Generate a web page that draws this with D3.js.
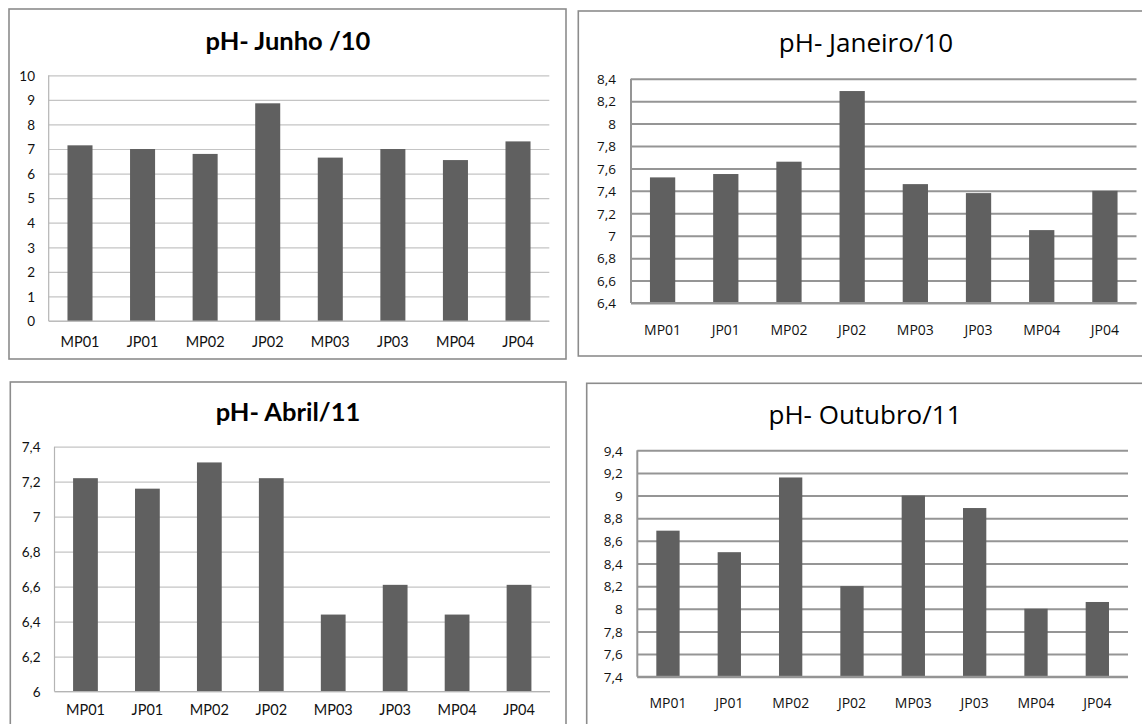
<!DOCTYPE html>
<html>
<head>
<meta charset="utf-8">
<script src="https://cdn.jsdelivr.net/npm/d3@7"></script>
<style>
  html, body { margin: 0; padding: 0; background: #fff; }
  svg { display: block; }
</style>
</head>
<body>
<svg id="chart" width="1142" height="724"></svg>
<script>
// ---------- data ----------
const categories = ["MP01", "JP01", "MP02", "JP02", "MP03", "JP03", "MP04", "JP04"];

const titleJunho10 = "pH- Junho /10";
const phJunho10 = [7.15, 7.0, 6.8, 8.86, 6.65, 7.0, 6.55, 7.31];
const ticksJunho10 = [0, 1, 2, 3, 4, 5, 6, 7, 8, 9, 10];

const titleJaneiro10 = "pH- Janeiro/10";
const phJaneiro10 = [7.52, 7.55, 7.66, 8.29, 7.46, 7.38, 7.05, 7.40];
const ticksJaneiro10 = [6.4, 6.6, 6.8, 7, 7.2, 7.4, 7.6, 7.8, 8, 8.2, 8.4];

const titleAbril11 = "pH- Abril/11";
const phAbril11 = [7.22, 7.16, 7.31, 7.22, 6.44, 6.61, 6.44, 6.61];
const ticksAbril11 = [6, 6.2, 6.4, 6.6, 6.8, 7, 7.2, 7.4];

const titleOutubro11 = "pH- Outubro/11";
const phOutubro11 = [8.69, 8.5, 9.16, 8.2, 9.0, 8.89, 8.0, 8.06];
const ticksOutubro11 = [7.4, 7.6, 7.8, 8, 8.2, 8.4, 8.6, 8.8, 9, 9.2, 9.4];

// ---------- layout / style ----------
const styleA = { // Excel/Calibri-like panels
  font: "Lato, 'Liberation Sans', sans-serif",
  titleWeight: "bold", titleSize: 25.5,
  tickSize: 13.5, catSize: 14.5,
  grid: "#c4c4c4", gridW: 1.2, axis: "#b4b4b4", axisW: 1.2
};
const styleB = { // Myriad-like panels
  font: "'Open Sans', 'Noto Sans', sans-serif",
  titleWeight: "normal", titleSize: 26,
  tickSize: 13.5, catSize: 14,
  grid: "#959595", gridW: 2, axis: "#959595", axisW: 2
};

const panels = [
  { title: titleJunho10, values: phJunho10, ticks: ticksJunho10, style: styleA,
    box: [9, 9, 566, 359], plot: [48.7, 75.3, 549.3, 321], titleX: 288, titleY: 50,
    tickRight: 35, catY: 346.5, barRatio: 0.4 },
  { title: titleJaneiro10, values: phJaneiro10, ticks: ticksJaneiro10, style: styleB,
    box: [578.3, 11, 1160, 356], plot: [631, 78.7, 1136.5, 303], titleX: 866, titleY: 52,
    tickRight: 616, catY: 334.5, barRatio: 0.4 },
  { title: titleAbril11, values: phAbril11, ticks: ticksAbril11, style: styleA,
    box: [10.3, 382, 566, 760], plot: [54.5, 446.7, 550, 691.5], titleX: 288, titleY: 421,
    tickRight: 40.5, catY: 714.5, barRatio: 0.4 },
  { title: titleOutubro11, values: phOutubro11, ticks: ticksOutubro11, style: styleB,
    box: [586.7, 383.3, 1160, 760], plot: [637.3, 450.3, 1128, 676.7], titleX: 865, titleY: 424,
    tickRight: 622.7, catY: 708, barRatio: 0.38 }
];

const fmt = v => String(v).replace(".", ",");
const svg = d3.select("#chart");
svg.append("rect").attr("width", 1142).attr("height", 724).attr("fill", "#fff");

panels.forEach(p => {
  const s = p.style;
  const g = svg.append("g");
  const [bx0, by0, bx1, by1] = p.box;
  g.append("rect")
    .attr("x", bx0).attr("y", by0)
    .attr("width", bx1 - bx0).attr("height", by1 - by0)
    .attr("fill", "#fff").attr("stroke", "#8c8c8c").attr("stroke-width", 1.6);

  const [px0, py0, px1, py1] = p.plot;
  const x = d3.scaleBand().domain(categories).range([px0, px1])
    .paddingInner(1 - p.barRatio).paddingOuter((1 - p.barRatio) / 2);
  const y = d3.scaleLinear().domain(d3.extent(p.ticks)).range([py1, py0]);

  // gridlines
  const gridAxis = d3.axisLeft(y).tickValues(p.ticks).tickSize(-(px1 - px0)).tickFormat("");
  const gg = g.append("g").attr("transform", `translate(${px0},0)`).call(gridAxis);
  gg.select(".domain").remove();
  gg.selectAll(".tick line").attr("stroke", s.grid).attr("stroke-width", s.gridW);

  // bars
  g.append("g").selectAll("rect").data(p.values).join("rect")
    .attr("x", (d, i) => x(categories[i]))
    .attr("width", x.bandwidth())
    .attr("y", d => y(d))
    .attr("height", d => y(y.domain()[0]) - y(d))
    .attr("fill", "#606060");

  // axis lines
  g.append("line").attr("x1", px0).attr("x2", px0).attr("y1", py0).attr("y2", py1)
    .attr("stroke", s.axis).attr("stroke-width", s.axisW);
  g.append("line").attr("x1", px0).attr("x2", px1).attr("y1", py1).attr("y2", py1)
    .attr("stroke", s.axis).attr("stroke-width", s.axisW);

  // y tick labels
  const yAxis = d3.axisLeft(y).tickValues(p.ticks).tickFormat(fmt).tickSize(0).tickPadding(0);
  const ya = g.append("g").attr("transform", `translate(${p.tickRight},0)`).call(yAxis);
  ya.select(".domain").remove();
  ya.selectAll("text").attr("font-family", s.font).attr("font-size", s.tickSize)
    .attr("fill", "#111").attr("dy", "0.35em");

  // category labels
  const xAxis = d3.axisBottom(x).tickSize(0).tickPadding(0);
  const xa = g.append("g").attr("transform", `translate(0,${p.catY})`).call(xAxis);
  xa.select(".domain").remove();
  xa.selectAll("text").attr("font-family", s.font).attr("font-size", s.catSize)
    .attr("fill", "#111").attr("dy", "0").attr("y", 0);

  // title
  g.append("text").attr("x", p.titleX).attr("y", p.titleY)
    .attr("text-anchor", "middle")
    .attr("font-family", s.font).attr("font-weight", s.titleWeight)
    .attr("font-size", s.titleSize).attr("fill", "#000")
    .text(p.title);
});
</script>
</body>
</html>
